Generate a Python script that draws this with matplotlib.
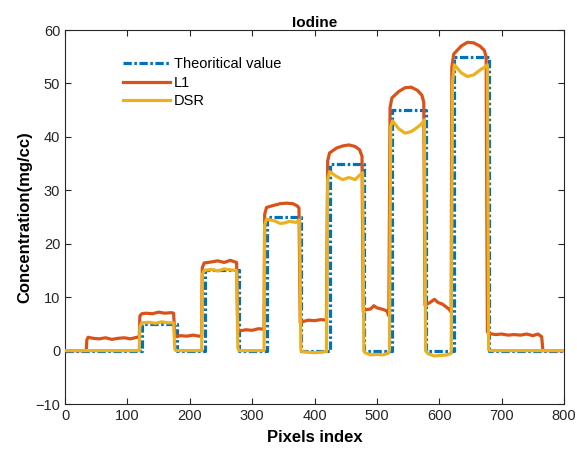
import numpy as np
import matplotlib
matplotlib.use('Agg')
import matplotlib.pyplot as plt

plt.rcParams['font.family'] = ['Liberation Sans', 'DejaVu Sans']

# valeur théorique (paliers)
theo_x = [0, 124, 179, 224, 279, 324, 379, 424, 479, 524, 579, 624, 679, 800]
theo_y = [0, 5, 0, 15, 0, 25, 0, 35, 0, 45, 0, 55, 0, 0]

# L1
l1_x = [0, 34, 35, 37, 45, 55, 65, 75, 85, 95, 105, 115, 119,
        120, 123, 130, 140, 150, 160, 170, 174, 176, 179, 185, 195, 205, 215, 219,
        220, 223, 235, 245, 255, 265, 272, 275, 277, 280, 290, 300, 310, 319,
        320, 323, 335, 345, 355, 365, 372, 375, 377, 380, 390, 400, 410, 419,
        421, 424, 435, 445, 455, 465, 472, 476, 478, 480, 490, 495, 500, 510, 516, 519,
        521, 524, 535, 545, 555, 565, 572, 575, 577, 585, 592, 598, 605, 615, 619,
        620, 623, 635, 645, 655, 665, 672, 675, 677, 680, 690, 700, 710, 720, 730,
        740, 750, 758, 764, 766, 800]
l1_y = [0, 0, 2.0, 2.5, 2.3, 2.2, 2.4, 2.1, 2.3, 2.4, 2.2, 2.5, 2.5,
        6.5, 6.9, 7.0, 6.9, 7.2, 7.0, 7.1, 7.0, 3.0, 2.6, 2.8, 2.7, 2.9, 2.7, 2.8,
        15.5, 16.4, 16.6, 16.8, 16.5, 16.9, 16.6, 16.5, 4.0, 3.7, 3.9, 3.8, 4.1, 4.0,
        25.5, 26.8, 27.2, 27.5, 27.6, 27.5, 27.1, 26.7, 5.2, 5.4, 5.7, 5.6, 5.8, 5.7,
        35.5, 37.0, 37.9, 38.3, 38.5, 38.2, 37.6, 36.4, 7.3, 7.6, 7.8, 8.4, 8.0, 7.7, 7.4, 6.5,
        45.5, 47.3, 48.5, 49.2, 49.3, 48.7, 47.8, 46.5, 8.5, 9.0, 9.6, 9.0, 8.7, 7.8, 7.2,
        53.0, 55.5, 57.0, 57.7, 57.6, 57.0, 56.2, 55.0, 3.5, 3.2, 3.0, 3.1, 2.9, 3.0, 2.9,
        3.1, 2.8, 3.1, 2.6, 0, 0]

# DSR
dsr_x = [0, 119, 120, 123, 135, 145, 155, 165, 174, 176, 178, 219,
         220, 223, 235, 245, 255, 265, 275, 277, 279, 319,
         320, 323, 335, 345, 352, 360, 370, 376, 378, 380, 390, 400, 410, 419,
         421, 424, 435, 445, 455, 465, 472, 477, 479, 481, 490, 500, 510, 518, 520,
         522, 525, 535, 545, 555, 565, 572, 576, 578, 582, 592, 602, 612, 619,
         621, 624, 635, 645, 655, 665, 672, 677, 679, 681, 800]
dsr_y = [0, 0, 4.5, 5.2, 5.3, 5.1, 5.4, 5.2, 5.2, 0.3, 0, 0,
         14.2, 15.0, 15.2, 14.9, 15.3, 15.1, 15.0, 0.5, 0, 0,
         23.5, 24.6, 24.3, 23.8, 23.9, 24.2, 24.0, 24.5, 0.2, -0.2, -0.3, -0.4, -0.3, -0.2,
         32.0, 33.5, 32.6, 32.0, 32.4, 32.0, 32.8, 33.3, 0, -0.4, -0.8, -0.7, -0.8, -0.5, 0,
         42.0, 43.0, 41.5, 40.7, 41.0, 41.8, 42.5, 43.2, 0, -0.6, -1.0, -0.9, -0.8, -0.5,
         50.0, 53.5, 52.0, 51.3, 51.6, 52.5, 53.0, 53.5, 0.2, 0, 0]

fig = plt.figure(figsize=(5.77, 4.55), dpi=100)
ax = fig.add_axes([0.1127, 0.112, 0.865, 0.822])

ax.step(theo_x, theo_y, where='post', color='#0072BD', lw=2.3,
        ls=(0, (2.6, 0.8, 0.8, 0.8)), label='Theoritical value', zorder=2)
ax.plot(l1_x, l1_y, color='#D95319', lw=2.3, label='L1', zorder=3)
ax.plot(dsr_x, dsr_y, color='#EDB120', lw=2.3, label='DSR', zorder=4)

ax.set_xlim(0, 800)
ax.set_ylim(-10, 60)
ax.set_xticks(np.arange(0, 801, 100))
ax.set_yticks(np.arange(-10, 61, 10))
ax.tick_params(direction='in', top=True, right=True, labelsize=10.5,
               colors='#262626', length=4)
for s in ax.spines.values():
    s.set_color('#262626')
    s.set_linewidth(0.8)

ax.set_title('Iodine', fontsize=11, fontweight='bold', pad=2)
ax.set_xlabel('Pixels index', fontsize=12, fontweight='bold', labelpad=5)
ax.set_ylabel('Concentration(mg/cc)', fontsize=12, fontweight='bold', labelpad=2)

ax.legend(loc='upper left', bbox_to_anchor=(0.09, 0.963), frameon=False,
          handlelength=3.2, fontsize=10.5, labelspacing=0.32, handletextpad=0.3)

fig.savefig('out.png', dpi=100)
